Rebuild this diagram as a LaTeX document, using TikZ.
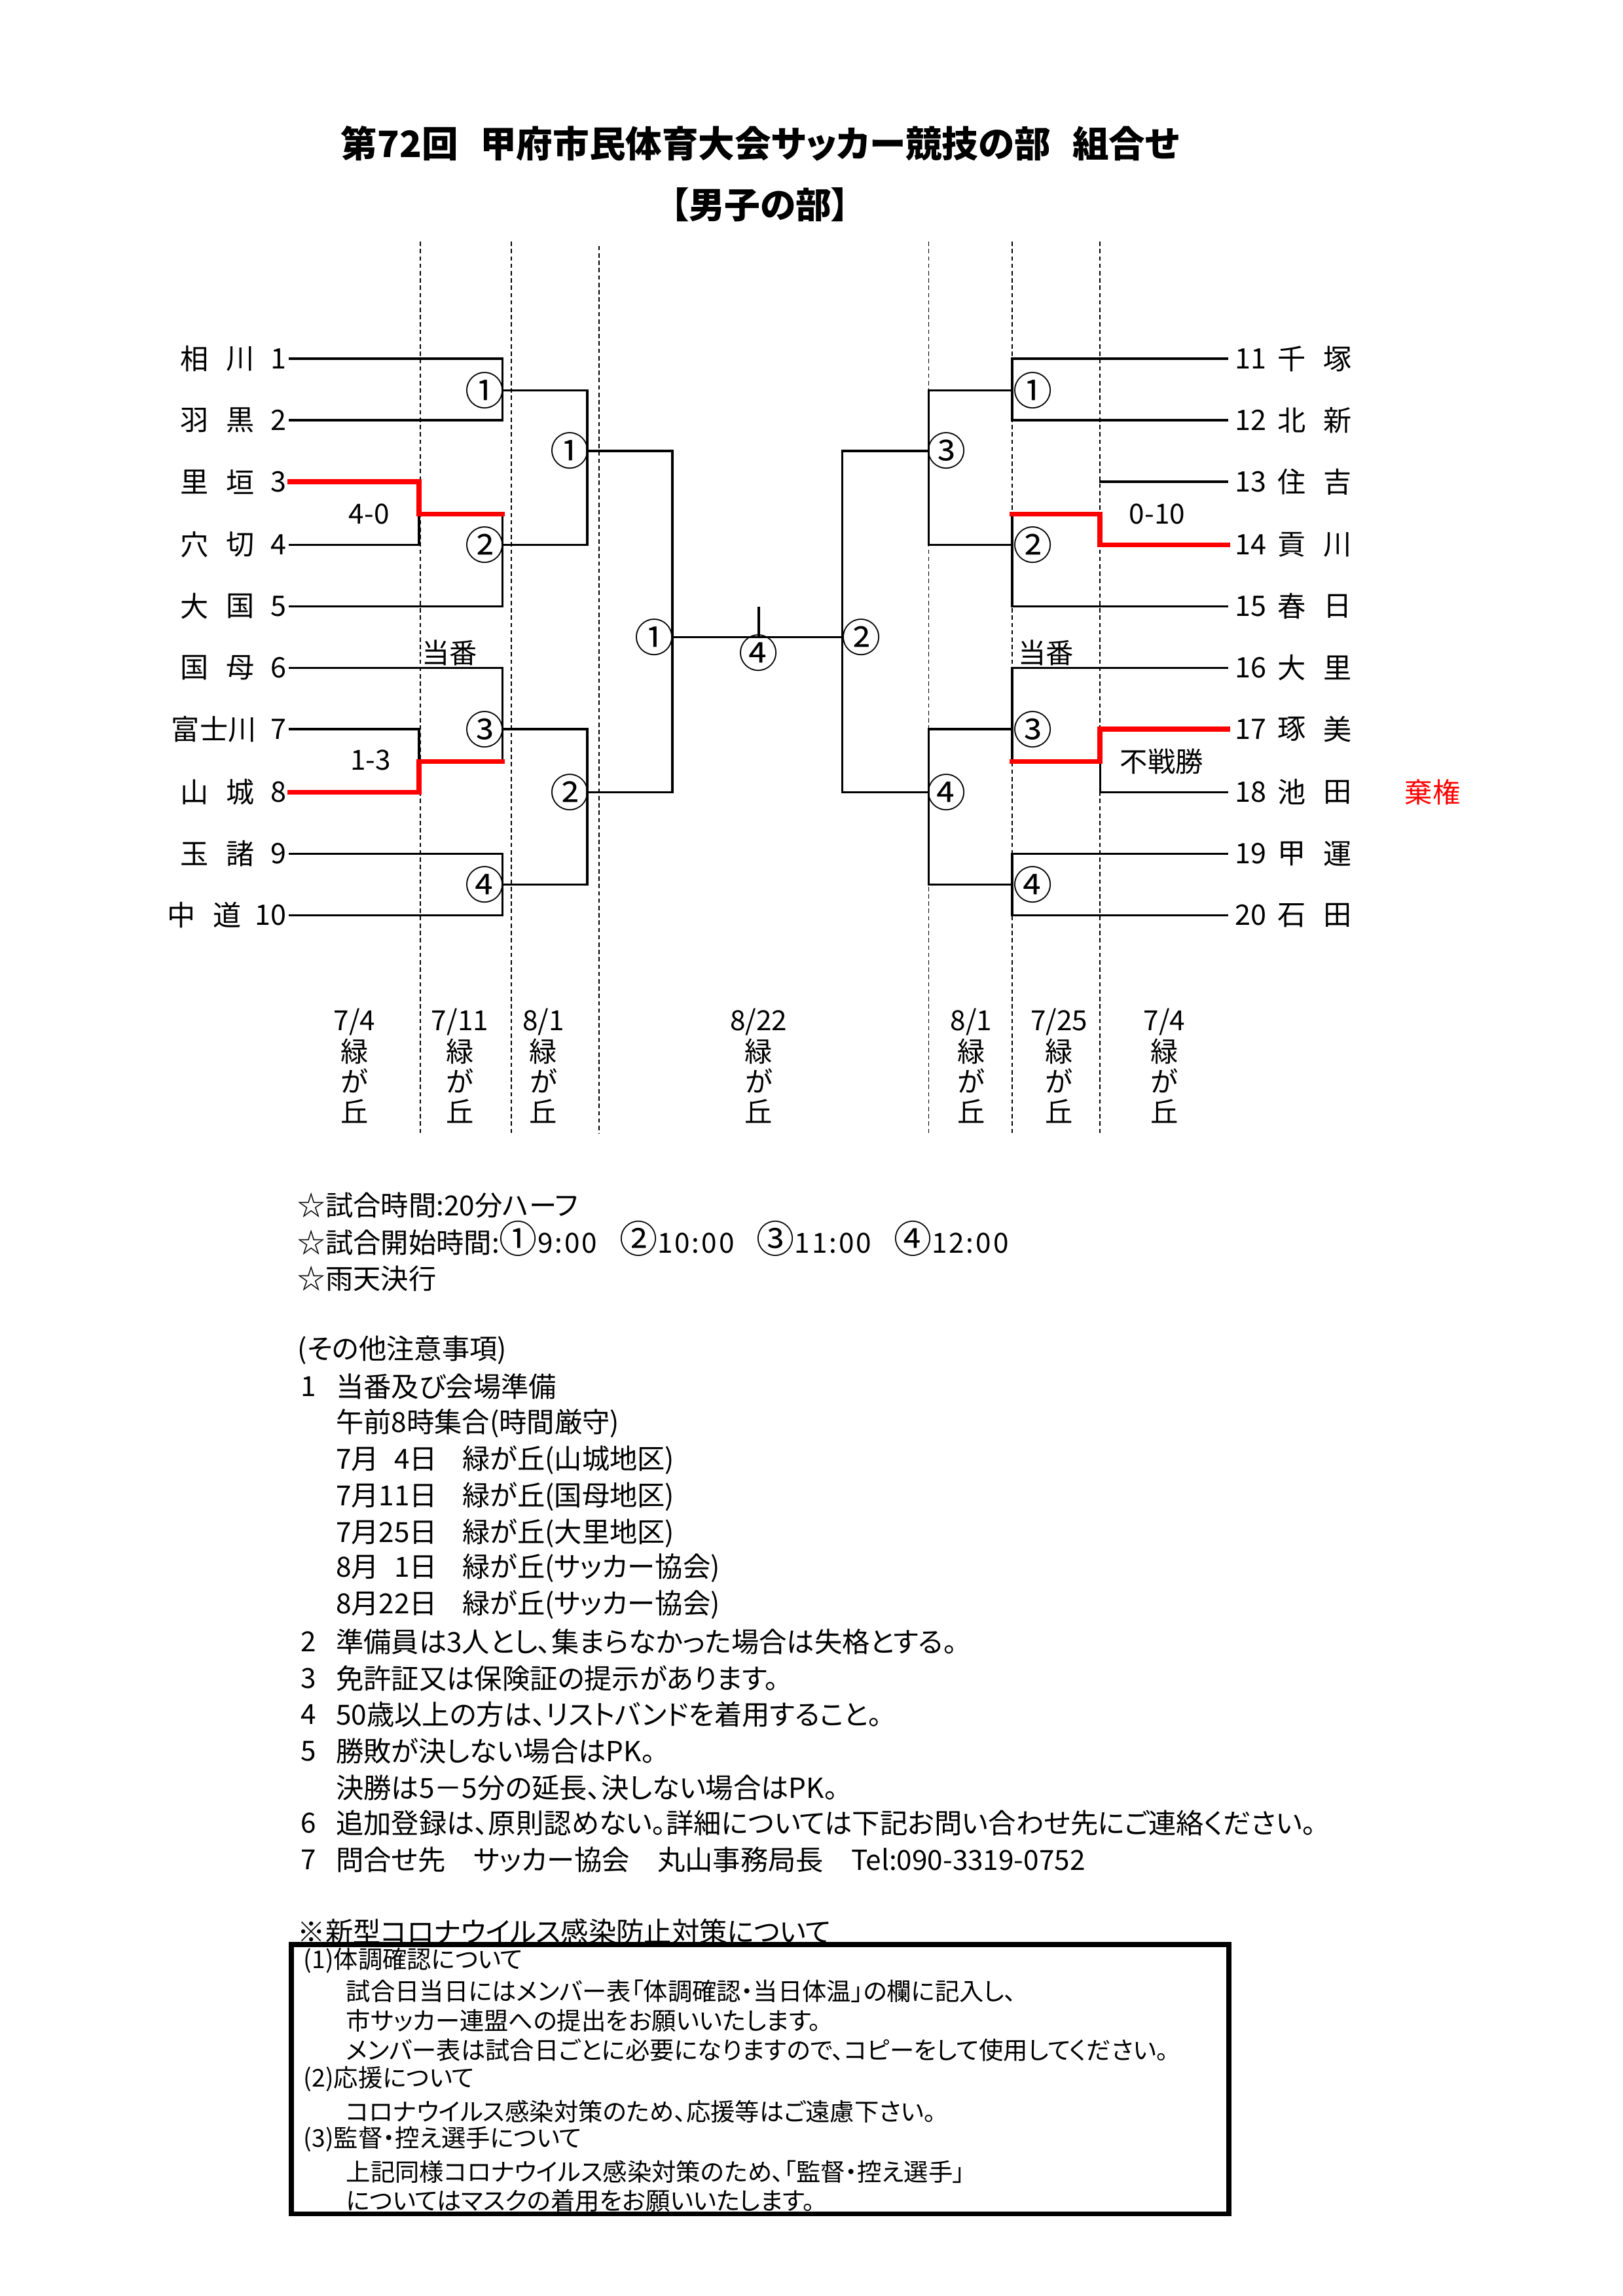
\documentclass[tikz,border=0pt]{standalone}
\usepackage{fontspec}
\setmainfont{Noto Sans CJK JP}[RawFeature=+palt]
\newcommand\cnumx[1]{{\fontsize{14}{12}\selectfont #1}}
\newcommand\timex[1]{{\addfontfeature{LetterSpace=7}#1}}
\begin{document}
\begin{tikzpicture}[x=0.18953mm,y=-0.18953mm,
  bline/.style={line width=0.8pt,line cap=rect},
  rline/.style={line width=1.8pt,red,line cap=rect},
  divider/.style={line width=0.45pt,dash pattern=on 1.6pt off 1.1pt},
  tm/.style={inner sep=0pt,font=\fontsize{10.4}{12}\selectfont},
  lab/.style={inner sep=0pt,font=\fontsize{10.2}{12}\selectfont},
  circ/.style={inner sep=0pt,font=\fontsize{14.5}{14}\selectfont},
  txt/.style={inner sep=0pt,anchor=west,font=\fontsize{10.2}{12}\selectfont},
  btxt/.style={inner sep=0pt,anchor=west,font=\fontsize{9}{11}\selectfont}]
\fill[white] (0,0) rectangle (1108,1568);
\useasboundingbox (0,0) rectangle (1108,1568);

% title
\node[inner sep=0pt,font=\fontsize{13.4}{16}\selectfont\bfseries] (title) at (519,98) {第72回\hspace{0.6em}甲府市民体育大会サッカー競技の部\hspace{0.6em}組合せ};
\node[inner sep=0pt,font=\fontsize{13.2}{15}\selectfont\bfseries] (subtitle) at (519,140) {【男子の部】};

% dividers
\foreach \x/\t in {287/165,349/165,409/168,634/165,691/165,751/165}
  \draw[divider] (\x,\t) -- (\x,774);

% left teams
\foreach \n/\a/\b/\y in {1/相/川/245,2/羽/黒/287,3/里/垣/329,4/穴/切/372,5/大/国/414,6/国/母/456,8/山/城/541,9/玉/諸/583}{
  \node[tm,anchor=east] (ln\n) at (196,\y) {\n};
  \node[tm] (lca\n) at (133,\y) {\a};
  \node[tm] (lcb\n) at (164,\y) {\b};
  \coordinate (a\n) at (198,\y);
}
\node[tm,anchor=east] (ln7) at (196,498) {7};
\node[tm] (lca7) at (146,498) {富士川};
\coordinate (a7) at (198,498);
\node[tm,anchor=east] (ln10) at (196,625) {10};
\node[tm] (lca10) at (124,625) {中};
\node[tm] (lcb10) at (155,625) {道};
\coordinate (a10) at (198,625);

% right teams
\foreach \n/\a/\b/\y in {11/千/塚/245,12/北/新/287,13/住/吉/329,14/貢/川/372,15/春/日/414,16/大/里/456,17/琢/美/498,18/池/田/541,19/甲/運/583,20/石/田/625}{
  \node[tm,anchor=west] (rn\n) at (843,\y) {\n};
  \node[tm] (rca\n) at (882,\y) {\a};
  \node[tm] (rcb\n) at (913,\y) {\b};
  \coordinate (b\n) at (838,\y);
}

% match points
\coordinate (lm1) at (343,266.5);
\coordinate (lm2) at (343,372);
\coordinate (lm3) at (343,498);
\coordinate (lm4) at (343,604);
\coordinate (lw1) at (286,351);
\coordinate (lw2) at (286,520);
\coordinate (lq1) at (401,308);
\coordinate (lq2) at (401,541);
\coordinate (lf) at (459,435);
\coordinate (rm1) at (691,266.5);
\coordinate (rm2) at (691,372);
\coordinate (rm3) at (691,498);
\coordinate (rm4) at (691,604);
\coordinate (rw1) at (751,351);
\coordinate (rw2) at (751,520);
\coordinate (rq1) at (634,308);
\coordinate (rq2) at (634,541);
\coordinate (rf) at (575,435);
\coordinate (tick) at (518,415);

% left bracket
\draw[bline] (a1) -| (lm1) |- (a2);
\draw[bline] (a4) -| (lw1);
\draw[bline] (lw1 -| lm2) |- (a5);
\draw[bline] (a6) -| (lm3) -- (lm3 |- lw2);
\draw[bline] (a7) -| (lw2);
\draw[bline] (a9) -| (lm4) |- (a10);
\draw[bline] (lm1) -| (lq1) |- (lm2);
\draw[bline] (lm3) -| (lq2) |- (lm4);
\draw[bline] (lq1) -| (lf) |- (lq2);
\draw[rline] (a3) -| (lw1) -- (lw1 -| lm2);
\draw[rline] (a8) -| (lw2) -- (lw2 -| lm3);

% right bracket
\draw[bline] (b11) -| (rm1) |- (b12);
\draw[bline] (b13) -- (b13 -| rw1);
\draw[bline] (rw1 -| rm2) |- (b15);
\draw[bline] (b16) -| (rm3) -- (rm3 |- rw2);
\draw[bline] (b18) -| (rw2);
\draw[bline] (b19) -| (rm4) |- (b20);
\draw[bline] (rm1) -| (rq1) |- (rm2);
\draw[bline] (rm3) -| (rq2) |- (rm4);
\draw[bline] (rq1) -| (rf) |- (rq2);
\draw[rline] (b14) -| (rw1) -- (rw1 -| rm2);
\draw[rline] (b17) -| (rw2) -- (rw2 -| rm3);

% final
\draw[bline] (lf) -- (rf);
\draw[bline] (tick) -- (tick |- lf);

% match labels
\node[circ] (g1) at (331,266.5) {①};
\node[circ] (g2) at (331,372) {②};
\node[circ] (g3) at (331,498) {③};
\node[circ] (g4) at (331,604) {④};
\node[circ] (g5) at (389,308) {①};
\node[circ] (g6) at (389,541) {②};
\node[circ] (g7) at (447,435) {①};
\node[circ] (g8) at (588,435) {②};
\node[circ] (g9) at (518,446) {④};
\node[circ] (g10) at (646,308) {③};
\node[circ] (g11) at (646,541) {④};
\node[circ] (g12) at (705,266.5) {①};
\node[circ] (g13) at (705,372) {②};
\node[circ] (g14) at (705,498) {③};
\node[circ] (g15) at (705,604) {④};

% scores and notes
\node[lab] (s1) at (252,351) {4-0};
\node[lab] (s2) at (253,519) {1-3};
\node[lab] (s3) at (790,351) {0-10};
\node[lab] (s4) at (793,520) {不戦勝};
\node[lab,text=red] (s5) at (978,541) {棄権};
\node[lab] (d1) at (307,446) {当番};
\node[lab] (d2) at (714,446) {当番};

% dates
\foreach \x/\d [count=\i] in {242/7\slash 4,314/7\slash 11,371/8\slash 1,518/8\slash 22,663/8\slash 1,723/7\slash 25,795/7\slash 4}{
  \node[lab] (dt\i) at (\x,698) {\d};
  \node[lab] (dm\i) at (\x,718) {緑};
  \node[lab] (dg\i) at (\x,738) {が};
  \node[lab] (dk\i) at (\x,759) {丘};
}

% notes
\node[txt] (t1) at (203,823) {☆試合時間:20分ハーフ};
\node[txt] (t2) at (203,846) {☆試合開始時間:\cnumx{①}\timex{9:00}\hspace{0.8em}\cnumx{②}\timex{10:00}\hspace{0.8em}\cnumx{③}\timex{11:00}\hspace{0.8em}\cnumx{④}\timex{12:00}};
\node[txt] (t3) at (203,873) {☆雨天決行};
\node[txt] (t4) at (203,922) {(その他注意事項)};
\node[txt] (k1) at (205,947) {1};
\node[txt] (u1) at (229,947) {当番及び会場準備};
\node[txt] (u1a) at (229,972) {午前8時集合(時間厳守)};
\node[txt] (u1b) at (229,997) {7月\phantom{1}4日\hspace{0.9em}緑が丘(山城地区)};
\node[txt] (u1c) at (229,1022) {7月11日\hspace{0.9em}緑が丘(国母地区)};
\node[txt] (u1d) at (229,1047) {7月25日\hspace{0.9em}緑が丘(大里地区)};
\node[txt] (u1e) at (229,1071) {8月\phantom{1}1日\hspace{0.9em}緑が丘(サッカー協会)};
\node[txt] (u1f) at (229,1096) {8月22日\hspace{0.9em}緑が丘(サッカー協会)};
\node[txt] (k2) at (205,1121) {2};
\node[txt] (u2) at (229,1121) {準備員は3人とし、集まらなかった場合は失格とする。};
\node[txt] (k3) at (205,1146) {3};
\node[txt] (u3) at (229,1146) {免許証又は保険証の提示があります。};
\node[txt] (k4) at (205,1171) {4};
\node[txt] (u4) at (229,1171) {50歳以上の方は、リストバンドを着用すること。};
\node[txt] (k5) at (205,1196) {5};
\node[txt] (u5) at (229,1196) {勝敗が決しない場合はPK。};
\node[txt] (u5a) at (229,1221) {決勝は5－5分の延長、決しない場合はPK。};
\node[txt] (k6) at (205,1245) {6};
\node[txt] (u6) at (229,1245) {追加登録は、原則認めない。詳細については下記お問い合わせ先にご連絡ください。};
\node[txt] (k7) at (205,1270) {7};
\node[txt] (u7) at (229,1270) {問合せ先\hspace{1em}サッカー協会\hspace{1em}丸山事務局長\hspace{1em}Tel:090-3319-0752};
\node[txt] (c0) at (203,1319) {※新型コロナウイルス感染防止対策について};

% box
\draw[line width=1.8pt] (199,1328) rectangle (839,1512);
\node[btxt] (c1) at (207,1339) {(1)体調確認について};
\node[btxt] (c1a) at (236,1360) {試合日当日にはメンバー表「体調確認・当日体温」の欄に記入し、};
\node[btxt] (c1b) at (236,1380) {市サッカー連盟への提出をお願いいたします。};
\node[btxt] (c1c) at (236,1400) {メンバー表は試合日ごとに必要になりますので、コピーをして使用してください。};
\node[btxt] (c2) at (207,1420) {(2)応援について};
\node[btxt] (c2a) at (236,1442) {コロナウイルス感染対策のため、応援等はご遠慮下さい。};
\node[btxt] (c3) at (207,1461) {(3)監督・控え選手について};
\node[btxt] (c3a) at (236,1483) {上記同様コロナウイルス感染対策のため、「監督・控え選手」};
\node[btxt] (c3b) at (236,1503) {についてはマスクの着用をお願いいたします。};
\end{tikzpicture}
\end{document}
